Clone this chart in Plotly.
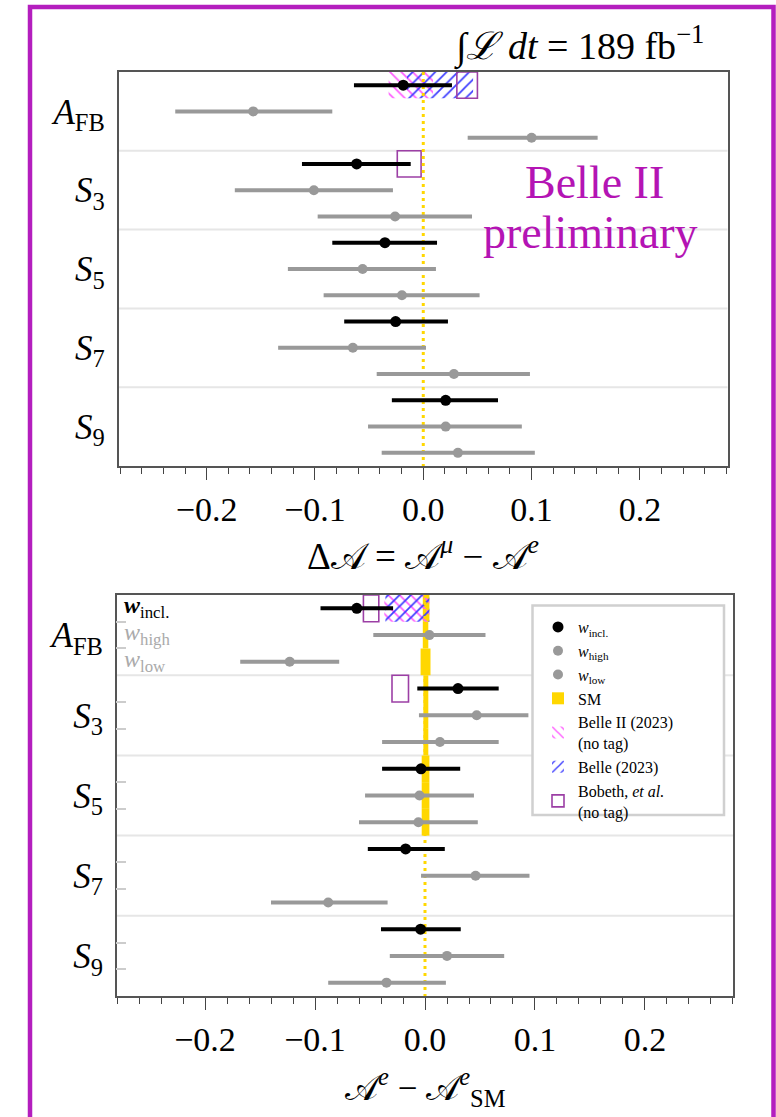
import plotly.graph_objects as go

W, H = 776, 1117

# ---------------- data ----------------
obs_labels = ["<i>A</i><sub>FB</sub>", "<i>S</i><sub>3</sub>", "<i>S</i><sub>5</sub>",
              "<i>S</i><sub>7</sub>", "<i>S</i><sub>9</sub>"]
variants = ["incl", "high", "low"]

# Top panel: Delta A = A^mu - A^e   (center, low edge, high edge) per observable
top_incl_c = [-0.0185, -0.0615, -0.0354, -0.0255, 0.0207]
top_incl_lo = [-0.064, -0.112, -0.084, -0.073, -0.029]
top_incl_hi = [0.0265, -0.0116, 0.0127, 0.0228, 0.069]
top_high_c = [-0.157, -0.101, -0.056, -0.065, 0.0207]
top_high_lo = [-0.229, -0.174, -0.125, -0.134, -0.051]
top_high_hi = [-0.084, -0.028, 0.0117, 0.0025, 0.091]
top_low_c = [0.100, -0.026, -0.0197, 0.0283, 0.032]
top_low_lo = [0.041, -0.0975, -0.092, -0.043, -0.0384]
top_low_hi = [0.161, 0.045, 0.052, 0.0985, 0.103]

# Bottom panel: A^e - A^e_SM
bot_incl_c = [-0.062, 0.030, -0.0036, -0.0176, -0.004]
bot_incl_lo = [-0.095, -0.007, -0.039, -0.052, -0.040]
bot_incl_hi = [-0.029, 0.067, 0.032, 0.018, 0.0325]
bot_high_c = [0.004, 0.047, -0.005, 0.046, 0.020]
bot_high_lo = [-0.047, -0.0055, -0.0545, -0.0036, -0.032]
bot_high_hi = [0.055, 0.094, 0.0445, 0.095, 0.072]
bot_low_c = [-0.123, 0.0136, -0.006, -0.088, -0.035]
bot_low_lo = [-0.168, -0.039, -0.060, -0.140, -0.088]
bot_low_hi = [-0.078, 0.067, 0.048, -0.034, 0.019]

# Other measurements (row index, low edge, high edge)
top_belle2_rows, top_belle2_lo, top_belle2_hi = [0], [-0.032], [0.009]
top_belle_rows, top_belle_lo, top_belle_hi = [0], [-0.015], [0.046]
top_bobeth_rows, top_bobeth_lo, top_bobeth_hi = [0, 3], [0.031, -0.024], [0.050, -0.002]
bot_belle2_rows, bot_belle2_lo, bot_belle2_hi = [0], [-0.037], [0.004]
bot_belle_rows, bot_belle_lo, bot_belle_hi = [0], [-0.036], [0.004]
bot_bobeth_rows, bot_bobeth_lo, bot_bobeth_hi = [0, 3], [-0.056, -0.030], [-0.042, -0.015]

# SM uncertainty band (bottom panel) per row
sm_rows = [0, 1, 2, 3, 4, 5, 6, 7, 8]
sm_lo = [-0.002, -0.002, -0.004, -0.0015, -0.0015, -0.0015, -0.003, -0.003, -0.003]
sm_hi = [0.004, 0.003, 0.005, 0.003, 0.003, 0.003, 0.004, 0.004, 0.004]

tick_vals = [-0.2, -0.1, 0.0, 0.1, 0.2]
tick_text = ["\u22120.2", "\u22120.1", "0.0", "0.1", "0.2"]

# ---------------- styles ----------------
FONT = "Liberation Serif"
BLACK = "#000000"
GRAY = "#999999"
GOLD = "#FFD700"
MAGENTA_HATCH = "#FF5CFF"
BLUE_HATCH = "#3C3CFF"
BOBETH = "#9C3FA5"
FRAME = "#B41EBE"

fig = go.Figure()


def rows_center(group_idx, variant_idx):
    return [3 * g + variant_idx + 0.5 for g in group_idx]


def add_bars(rows, lo, hi, xa, ya, name, color, shape, bg, showlegend, rank, outline=None):
    marker = dict(color=color, line=dict(width=0))
    if shape:
        marker["pattern"] = dict(shape=shape, size=8, solidity=0.22, fillmode="replace", bgcolor=bg)
    if outline:
        marker = dict(color="rgba(0,0,0,0)", line=dict(color=outline, width=1.6))
    fig.add_trace(go.Bar(
        orientation="h", y=[r + 0.5 for r in rows], x=[h - l for l, h in zip(lo, hi)],
        base=lo, width=[1.0] * len(rows), marker=marker, name=name,
        xaxis=xa, yaxis=ya, showlegend=showlegend, legendrank=rank, hoverinfo="skip"))


def add_points(c, lo, hi, v, xa, ya, name, color, size, showlegend, rank):
    groups = list(range(len(c)))
    fig.add_trace(go.Scatter(
        x=c, y=rows_center(groups, v), mode="markers", name=name,
        marker=dict(color=color, size=size),
        error_x=dict(type="data", symmetric=False,
                     array=[h - m for m, h in zip(c, hi)],
                     arrayminus=[m - l for m, l in zip(c, lo)],
                     color=color, thickness=4, width=0),
        xaxis=xa, yaxis=ya, showlegend=showlegend, legendrank=rank, hoverinfo="skip"))


# ---- top panel ----
fig.add_trace(go.Scatter(x=[0, 0], y=[0, 15], mode="lines",
                         line=dict(color=GOLD, width=3, dash="3px,4px"),
                         xaxis="x", yaxis="y", showlegend=False, hoverinfo="skip"))
add_bars(top_belle2_rows, top_belle2_lo, top_belle2_hi, "x", "y", "Belle II (2023)<br>(no tag)",
         MAGENTA_HATCH, "\\", "white", False, 5)
add_bars(top_belle_rows, top_belle_lo, top_belle_hi, "x", "y", "Belle (2023)",
         BLUE_HATCH, "/", "rgba(0,0,0,0)", False, 6)
add_bars(top_bobeth_rows, top_bobeth_lo, top_bobeth_hi, "x", "y", "Bobeth",
         None, None, None, False, 7, outline=BOBETH)
add_points(top_high_c, top_high_lo, top_high_hi, 1, "x", "y", "high", GRAY, 10, False, 2)
add_points(top_low_c, top_low_lo, top_low_hi, 2, "x", "y", "low", GRAY, 10, False, 3)
add_points(top_incl_c, top_incl_lo, top_incl_hi, 0, "x", "y", "incl", BLACK, 11, False, 1)

# ---- bottom panel ----
fig.add_trace(go.Scatter(x=[0, 0], y=[0, 15], mode="lines",
                         line=dict(color=GOLD, width=3, dash="3px,4px"),
                         xaxis="x2", yaxis="y2", showlegend=False, hoverinfo="skip"))
add_bars(sm_rows, sm_lo, sm_hi, "x2", "y2", "SM", GOLD, None, None, True, 4)
add_bars(bot_belle2_rows, bot_belle2_lo, bot_belle2_hi, "x2", "y2", "Belle II (2023)<br>(no tag)",
         MAGENTA_HATCH, "\\", "rgba(0,0,0,0)", True, 5)
add_bars(bot_belle_rows, bot_belle_lo, bot_belle_hi, "x2", "y2", "Belle (2023)",
         BLUE_HATCH, "/", "rgba(0,0,0,0)", True, 6)
add_bars(bot_bobeth_rows, bot_bobeth_lo, bot_bobeth_hi, "x2", "y2",
         "Bobeth, <i>et al.</i><br>(no tag)", None, None, None, True, 7, outline=BOBETH)
add_points(bot_high_c, bot_high_lo, bot_high_hi, 1, "x2", "y2",
           "<i>w</i><sub>high</sub>", GRAY, 10, True, 2)
add_points(bot_low_c, bot_low_lo, bot_low_hi, 2, "x2", "y2",
           "<i>w</i><sub>low</sub>", GRAY, 10, True, 3)
add_points(bot_incl_c, bot_incl_lo, bot_incl_hi, 0, "x2", "y2",
           "<i>w</i><sub>incl.</sub>", BLACK, 11, True, 1)


def px_x(p):
    return p / W


def px_y(p):
    return 1 - p / H


xcommon = dict(tickmode="array", tickvals=tick_vals, ticktext=tick_text,
               ticks="outside", ticklen=12, tickwidth=1.3, tickcolor="#444",
               minor=dict(tick0=0, dtick=0.02, ticks="outside", ticklen=6,
                          tickwidth=1, tickcolor="#444", showgrid=False),
               showgrid=False, zeroline=False, showline=True, mirror=True,
               linecolor="#555", linewidth=1.5, ticklabelstandoff=0,
               tickfont=dict(family=FONT, size=34, color="black"))
ycommon = dict(range=[15, 0], tickmode="array", tickvals=[1.5, 4.5, 7.5, 10.5, 13.5],
               ticktext=obs_labels, ticks="", showgrid=False, zeroline=False,
               showline=True, mirror=True, linecolor="#555", linewidth=1.5,
               ticklabelstandoff=5,
               tickfont=dict(family=FONT, size=35, color="black"))

fig.update_layout(
    width=W, height=H, margin=dict(l=0, r=0, t=0, b=0),
    paper_bgcolor="white", plot_bgcolor="white",
    barmode="overlay", hovermode=False,
    font=dict(family=FONT, color="black"),
    xaxis=dict(domain=[px_x(118.5), px_x(727.5)], range=[-0.2814, 0.2809], anchor="y", **xcommon),
    yaxis=dict(domain=[px_y(466), px_y(72)], anchor="x", **ycommon),
    xaxis2=dict(domain=[px_x(116.7), px_x(733.3)], range=[-0.2803, 0.2803], anchor="y2", **xcommon),
    yaxis2=dict(domain=[px_y(996), px_y(595)], anchor="x2",
                **{**ycommon,
                   "minor": dict(tickmode="array", tickvals=[1, 2, 4, 5, 7, 8, 10, 11, 13, 14],
                                 ticks="inside", ticklen=10, tickwidth=2, tickcolor="#cccccc",
                                 showgrid=False)}),
    legend=dict(x=px_x(538), y=px_y(610), xanchor="left", yanchor="top",
                bgcolor="rgba(0,0,0,0)", borderwidth=0,
                font=dict(family=FONT, size=16, color="black"),
                tracegroupgap=0),
)

shapes = []
for xa, ya in (("x", "y"), ("x2", "y2")):
    for yv in (3, 6, 9, 12):
        shapes.append(dict(type="line", xref=f"{xa} domain", yref=ya, x0=0, x1=1, y0=yv, y1=yv,
                           line=dict(color="#e6e6e6", width=2), layer="below"))
# legend frame
shapes.append(dict(type="rect", xref="paper", yref="paper",
                   x0=px_x(532.5), x1=px_x(724), y0=px_y(815), y1=px_y(605.5),
                   fillcolor="white", line=dict(color="#d0d0d0", width=2.5), layer="above"))
# outer magenta frame
shapes.append(dict(type="rect", xref="paper", yref="paper",
                   x0=px_x(30), x1=px_x(773.5), y0=-0.02, y1=px_y(7),
                   fillcolor="rgba(0,0,0,0)", line=dict(color=FRAME, width=4.5), layer="above"))
fig.update_layout(shapes=shapes)

ann = []
ann.append(dict(text="\u222b<i>\u2112 dt</i> = 189 fb<sup>\u22121</sup>", xref="paper", yref="paper",
                x=px_x(579), y=px_y(45), xanchor="center", yanchor="middle", showarrow=False,
                font=dict(family=FONT, size=38, color="black")))
ann.append(dict(text="Belle II", xref="paper", yref="paper", x=px_x(594), y=px_y(183),
                xanchor="center", yanchor="middle", showarrow=False,
                font=dict(family=FONT, size=46, color="#B414B4")))
ann.append(dict(text="preliminary", xref="paper", yref="paper", x=px_x(590), y=px_y(233),
                xanchor="center", yanchor="middle", showarrow=False,
                font=dict(family=FONT, size=46, color="#B414B4")))
ann.append(dict(text="\u0394\U0001D49C = \U0001D49C<sup><i>\u03bc</i></sup> \u2212 \U0001D49C<sup><i>e</i></sup>",
                xref="paper", yref="paper", x=px_x(423), y=px_y(553),
                xanchor="center", yanchor="middle", showarrow=False,
                font=dict(family=FONT, size=37, color="black")))
ann.append(dict(text="\U0001D49C<sup><i>e</i></sup> \u2212 \U0001D49C<sup><i>e</i></sup><sub>SM</sub>",
                xref="paper", yref="paper", x=px_x(425), y=px_y(1087),
                xanchor="center", yanchor="middle", showarrow=False,
                font=dict(family=FONT, size=35, color="black")))
w_labels = ["<b><i>w</i></b><sub>incl.</sub>", "<i>w</i><sub>high</sub>", "<i>w</i><sub>low</sub>"]
w_colors = ["black", "#aaaaaa", "#aaaaaa"]
for i, (t, c) in enumerate(zip(w_labels, w_colors)):
    ann.append(dict(text=t, xref="x2 domain", yref="y2", x=0.008, y=i + 0.45,
                    xanchor="left", yanchor="middle", showarrow=False,
                    font=dict(family=FONT, size=24, color=c)))
fig.update_layout(annotations=ann)

fig.write_html("out.html")
